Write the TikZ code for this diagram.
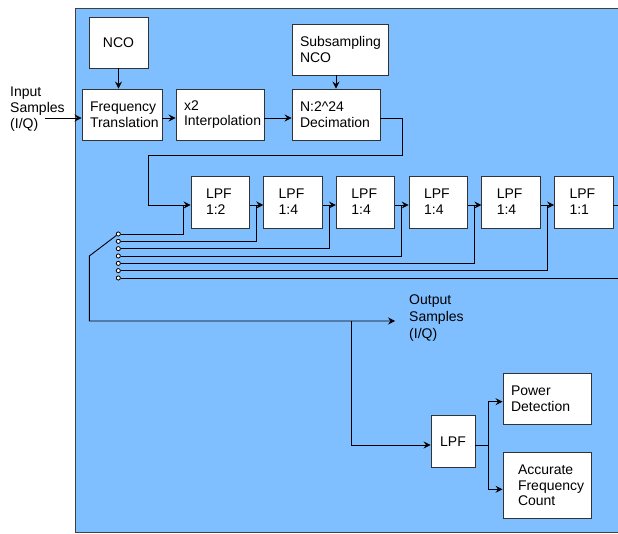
\documentclass[tikz,border=0pt]{standalone}
\usepackage{fontspec}
\setmainfont{Liberation Sans}
\usetikzlibrary{arrows.meta,calc}
\definecolor{bluebg}{RGB}{128,191,255}
\begin{document}
\begin{tikzpicture}[x=1pt,y=-1pt,
  every node/.style={font=\fontsize{14}{15.8}\selectfont},
  blk/.style={draw=black!80, fill=white, line width=0.9pt, inner ysep=0pt, align=left},
  wire/.style={draw=black, line width=0.9pt},
  arr/.style={wire, -{Stealth[length=7pt,width=7pt,inset=2.5pt]}},
  tapdot/.style={circle, draw=black, fill=white, inner sep=0pt, minimum size=4pt, line width=0.7pt},
  lbl/.style={anchor=west, align=left, inner sep=0pt}
]
\useasboundingbox (0,0) rectangle (618,534);
\clip (0,0) rectangle (618,534);
\fill[bluebg] (75,9) rectangle (640,532.5);
\draw[black!75, line width=1pt] (640,9) -- (75,9) -- (75,532.5) -- (640,532.5);

% top row
\node[blk, align=center, minimum width=59pt, minimum height=51pt] (nco) at (118.5,42.5) {NCO};
\node[blk, text width=64pt, inner xsep=8pt, minimum height=51pt] (ft) at (122,114.5) {Frequency\\Translation};
\node[blk, text width=72pt, inner xsep=8pt, minimum height=51pt] (interp) at (220,114.5) {x2\\Interpolation};
\node[blk, text width=80pt, inner xsep=8pt, minimum height=51pt] (subnco) at (340,49.5) {Subsampling\\NCO};
\node[blk, text width=72pt, inner xsep=8pt, minimum height=51pt] (dec) at (336,114.5) {N:2\^{}24\\Decimation};

\node[lbl] (inp) at (10,109) {Input\\Samples\\(I/Q)};

% LPF chain
\foreach \i/\r in {1/2,2/4,3/4,4/4,5/4,6/1} {
  \node[blk, text width=28.5pt, inner xsep=15pt, minimum height=52pt] (lpf\i) at ({191+72.7*(\i-1)+29.25},202) {LPF\\1:\r};
}

% bottom blocks
\node[blk, align=center, minimum width=44pt, minimum height=51.5pt, inner xsep=0pt] (lpfs) at (453,441.5) {LPF};
\node[blk, text width=72pt, inner xsep=8pt, minimum height=51pt] (pd) at (547,398.5) {Power\\Detection};
\node[blk, text width=58pt, inner xsep=15pt, minimum height=66pt] (afc) at (547,485.3) {Accurate\\Frequency\\Count};

\node[lbl, font=\fontsize{14}{17}\selectfont] (outp) at (409,318) {Output\\Samples\\(I/Q)};

% helper coordinates
\coordinate (yin) at (0,118);
\coordinate (yrow) at (0,205);
\coordinate (inS) at (45,118);
\coordinate (c1) at (402,155);
\coordinate (c2) at (148,155);
\coordinate (rEdge) at (640,0);
\coordinate (sw) at (89.3,256);
\coordinate (outEnd) at (395,321);
\coordinate (br) at (351,321);
\coordinate (ys) at (0,445);
\coordinate (bx) at (488.7,0);
\coordinate (ypd) at (0,401.7);
\coordinate (yafc) at (0,489.3);

% top connectors
\draw[arr] (inS) -- (ft.west |- yin);
\draw[arr] (nco.south) -- (nco.south |- ft.north);
\draw[arr] (ft.east |- yin) -- (interp.west |- yin);
\draw[arr] (interp.east |- yin) -- (dec.west |- yin);
\draw[arr] (dec.north |- subnco.south) -- (dec.north);
\draw[arr] (dec.east |- yin) -| (c1) -- (c2) |- (lpf1.west |- yrow);

% chain connectors
\foreach \i/\j in {1/2,2/3,3/4,4/5,5/6} {
  \draw[arr] (lpf\i.east |- yrow) -- (lpf\j.west |- yrow);
}
\draw[wire] (lpf6.east |- yrow) -- (rEdge |- yrow);

% taps
\foreach \k in {1,...,7} {
  \node[tapdot] (tap\k) at (118.3,{234+7.33*(\k-1)}) {};
}
\foreach \k in {1,...,6} {
  \draw[wire] (tap\k.east) -| ($(lpf\k.west |- yrow)+(-7,0)$);
}
\draw[wire] (tap7.east) -- (tap7 -| rEdge);
\foreach \k in {1,...,7} {
  \node[tapdot] at (tap\k) {};
}

% switch and output
\draw[arr] (tap1) -- (sw) |- (outEnd);
\draw[arr] (br) |- (lpfs.west |- ys);
\draw[wire] (lpfs.east |- ys) -- (bx |- ys);
\draw[arr] (bx |- ys) |- (pd.west |- ypd);
\draw[arr] (bx |- ys) |- (afc.west |- yafc);
\end{tikzpicture}
\end{document}
